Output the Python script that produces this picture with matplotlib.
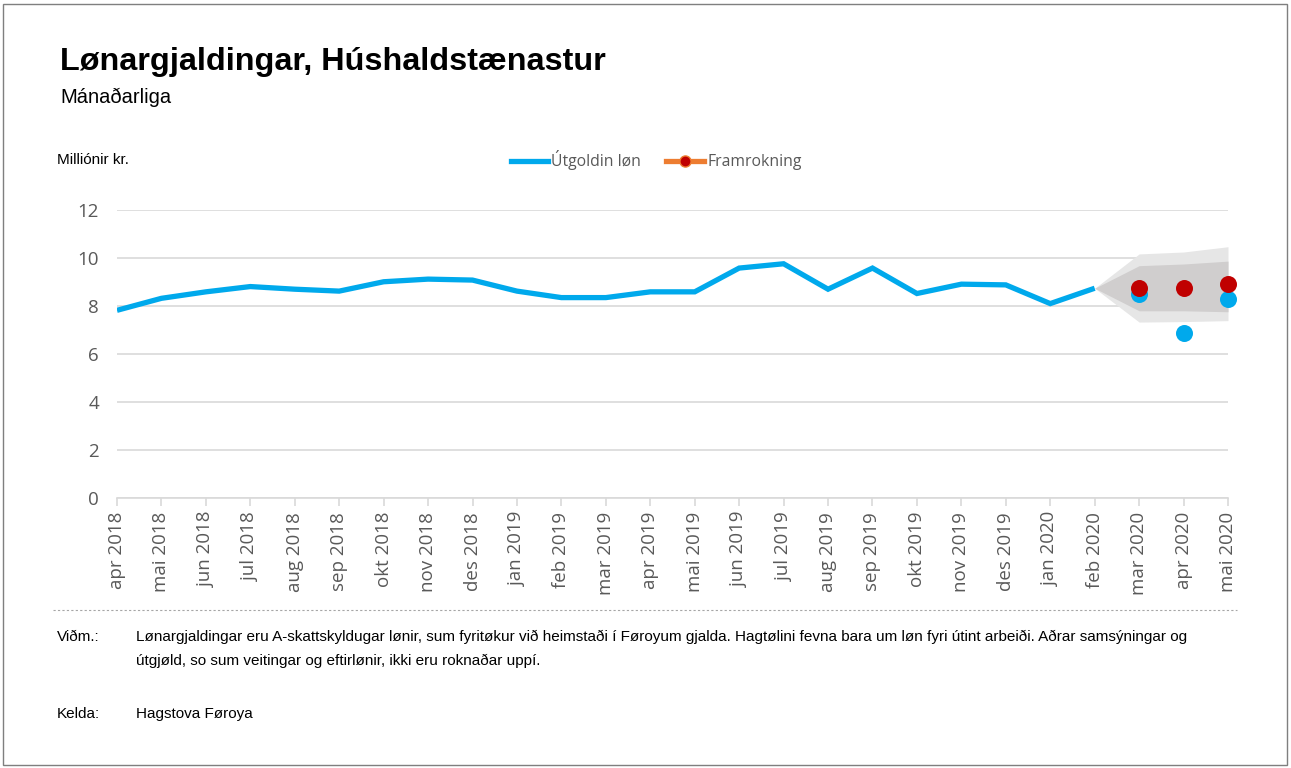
import matplotlib
matplotlib.use("Agg")
import matplotlib.pyplot as plt
from matplotlib.lines import Line2D
from matplotlib.patches import Rectangle
import numpy as np

months = ["apr 2018", "mai 2018", "jun 2018", "jul 2018", "aug 2018", "sep 2018",
          "okt 2018", "nov 2018", "des 2018", "jan 2019", "feb 2019", "mar 2019",
          "apr 2019", "mai 2019", "jun 2019", "jul 2019", "aug 2019", "sep 2019",
          "okt 2019", "nov 2019", "des 2019", "jan 2020", "feb 2020", "mar 2020",
          "apr 2020", "mai 2020"]

# paid wages, line part (apr 2018 - feb 2020)
wages = [7.82, 8.32, 8.59, 8.81, 8.70, 8.62, 9.01, 9.12, 9.08, 8.62, 8.35, 8.35,
         8.59, 8.59, 9.58, 9.76, 8.70, 9.58, 8.52, 8.91, 8.88, 8.10, 8.74]
# paid wages, latest months shown as dots
wages_recent = [8.50, 6.88, 8.30]
# forecast
forecast = [8.75, 8.75, 8.92]
# fan: start at feb 2020 value, then mar-mai 2020
fan_outer_hi = [8.74, 10.17, 10.25, 10.47]
fan_inner_hi = [8.74, 9.68, 9.75, 9.87]
fan_inner_lo = [8.74, 7.80, 7.80, 7.76]
fan_outer_lo = [8.74, 7.33, 7.35, 7.39]

blue = "#00a9ec"
red = "#c00000"
orange = "#ed7d31"
grey_txt = "#595959"

W, H = 1291, 768
fig = plt.figure(figsize=(W / 100, H / 100), dpi=100)

# frame around the whole picture
fig.patches.append(Rectangle((3 / W, 3 / H), 1 - 7 / W, 1 - 7 / H,
                             transform=fig.transFigure, fill=False,
                             edgecolor="#7f7f7f", linewidth=1))

ax = fig.add_axes([117 / W, 1 - 498 / H, (1228 - 117) / W, (498 - 210) / H])

x = np.arange(len(months))
n_line = len(wages)
fan_x = x[n_line - 1:]

ax.fill_between(fan_x, fan_outer_lo, fan_outer_hi, color="#e6e6e6", linewidth=0, zorder=1)
ax.fill_between(fan_x, fan_inner_lo, fan_inner_hi, color="#d0cece", linewidth=0, zorder=2)

ax.plot(x[:n_line], wages, color=blue, linewidth=3.8, solid_capstyle="butt",
        solid_joinstyle="miter", zorder=4)
ax.scatter(x[n_line:], wages_recent, s=150, color=blue, zorder=5,
           linewidths=0, clip_on=False)
ax.scatter(x[n_line:], forecast, s=150, color=red, zorder=6,
           linewidths=0, clip_on=False)

ax.set_xlim(0, len(months) - 1)
ax.set_ylim(0, 12)
ax.set_yticks(range(0, 13, 2))
ax.yaxis.grid(True, color="#d9d9d9", linewidth=1.2)
ax.set_axisbelow(True)
for side in ["top", "right", "left"]:
    ax.spines[side].set_visible(False)
ax.spines["bottom"].set_color("#d9d9d9")
ax.spines["bottom"].set_linewidth(1.2)

ax.set_xticks(x)
ax.set_xticklabels(months, rotation=90, fontsize=13.5, color=grey_txt,
                   family="Open Sans")
ax.tick_params(axis="x", length=6, color="#d9d9d9", width=1.2, pad=4)
ax.tick_params(axis="y", length=0, pad=13, labelsize=13.5, labelcolor=grey_txt)
for lbl in ax.get_yticklabels():
    lbl.set_family("Open Sans")

# titles
fig.text(60 / W, 1 - 62 / H, "Lønargjaldingar, Húshaldstænastur", fontsize=23.3,
         fontweight="bold", family="Liberation Sans", va="center")
fig.text(60 / W, 1 - 97 / H, "Mánaðarliga", fontsize=14.5, family="Liberation Sans",
         va="center")
fig.text(57 / W, 1 - 160 / H, "Milliónir kr.", fontsize=11,
         family="Liberation Sans", va="center")

# legend
handles = [Line2D([], [], color=blue, linewidth=3.8),
           Line2D([], [], color=orange, linewidth=3.8, marker="o",
                  markersize=8, markerfacecolor=red, markeredgecolor=orange)]
leg = fig.legend(handles, ["Útgoldin løn", "Framrokning"], loc="center",
                 bbox_to_anchor=(656 / W, 1 - 160 / H), ncol=2, frameon=False,
                 handlelength=2.4, handletextpad=0.2, columnspacing=1.6,
                 prop={"family": "Open Sans", "size": 11.3})
for t in leg.get_texts():
    t.set_color(grey_txt)

# separator
fig.add_artist(Line2D([53 / W, 1237 / W], [1 - 610 / H, 1 - 610 / H],
                      transform=fig.transFigure, color="#a6a6a6",
                      linewidth=0.8, linestyle=(0, (2, 2))))

# notes
note_font = dict(fontsize=11, family="Liberation Sans", va="center")
fig.text(57 / W, 1 - 637 / H, "Viðm.:", **note_font)
fig.text(136 / W, 1 - 637 / H,
         "Lønargjaldingar eru A-skattskyldugar lønir, sum fyritøkur við heimstaði "
         "í Føroyum gjalda. Hagtølini fevna bara um løn fyri útint arbeiði. Aðrar "
         "samsýningar og", **note_font)
fig.text(136 / W, 1 - 661 / H,
         "útgjøld, so sum veitingar og eftirlønir, ikki eru roknaðar uppí.", **note_font)
fig.text(57 / W, 1 - 714 / H, "Kelda:", **note_font)
fig.text(136 / W, 1 - 714 / H, "Hagstova Føroya", **note_font)

fig.savefig("out.png", dpi=100)
